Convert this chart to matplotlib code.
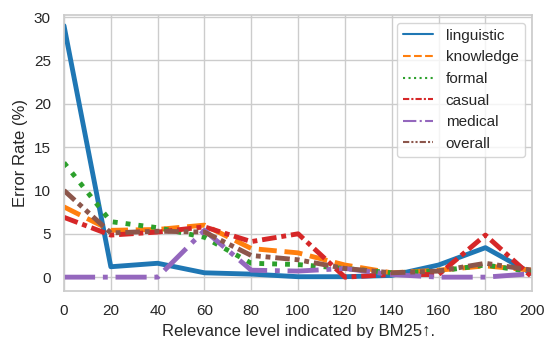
import matplotlib
matplotlib.use("Agg")
import matplotlib.pyplot as plt
import seaborn as sns

sns.set_theme(style="whitegrid", context="notebook")
plt.rcParams["font.family"] = ["Liberation Sans", "DejaVu Sans"]

relevance = [0, 20, 40, 60, 80, 100, 120, 140, 160, 180, 200]

linguistic = [29.0, 1.2, 1.6, 0.5, 0.35, 0.05, 0.05, 0.2, 1.4, 3.4, 0.4]
knowledge = [8.1, 5.4, 5.5, 6.0, 3.3, 2.8, 1.4, 0.5, 0.8, 1.3, 0.8]
formal = [13.2, 6.4, 5.7, 4.6, 1.6, 1.45, 1.0, 0.5, 0.7, 1.4, 0.6]
casual = [6.9, 4.85, 5.2, 5.8, 4.1, 5.0, 0.0, 0.3, 0.3, 4.85, 0.0]
medical = [0.0, 0.0, 0.0, 5.4, 0.8, 0.7, 1.0, 0.3, 0.0, 0.0, 0.4]
overall = [10.0, 5.1, 5.3, 5.2, 2.5, 2.0, 1.0, 0.5, 0.7, 1.6, 0.8]

series = [
    ("linguistic", linguistic, "-"),
    ("knowledge", knowledge, "--"),
    ("formal", formal, ":"),
    ("casual", casual, (0, (3, 1, 1, 1))),
    ("medical", medical, "-."),
    ("overall", overall, (0, (3, 1, 1, 1, 1, 1))),
]
colors = sns.color_palette("tab10")

fig = plt.figure(figsize=(5.47, 3.38), dpi=100)
ax = fig.add_axes([0.117, 0.139, 0.856, 0.817])

for i, (name, vals, ls) in enumerate(series):
    ax.plot(relevance, vals, linestyle=ls, color=colors[i], linewidth=3.5, label=name)

ax.set_xlim(0, 200)
ax.set_ylim(-1.6, 30.25)
ax.set_xticks(relevance)
ax.set_yticks([0, 5, 10, 15, 20, 25, 30])
ax.set_xlabel("Relevance level indicated by BM25\u2191.")
ax.set_ylabel("Error Rate (%)")

leg = ax.legend(loc="upper right")
for h in leg.get_lines():
    h.set_linewidth(1.5)

fig.savefig("out.png", dpi=100)
